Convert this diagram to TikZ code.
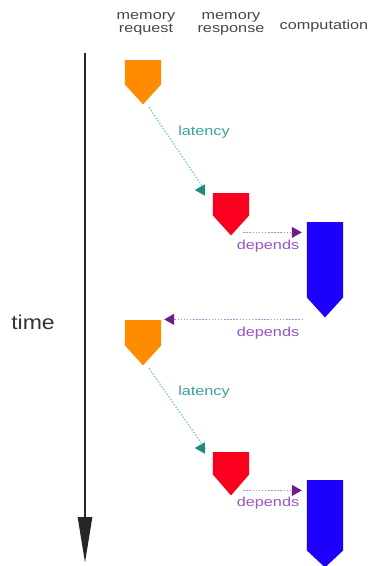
\documentclass[tikz,border=0pt]{standalone}
\usepackage{fontspec}
\setmainfont{Liberation Sans}
\usetikzlibrary{arrows.meta,calc}

\definecolor{reqorange}{RGB}{255,140,0}
\definecolor{resred}{RGB}{250,0,30}
\definecolor{compblue}{RGB}{28,0,252}
\definecolor{latline}{RGB}{120,200,210}
\definecolor{lathead}{RGB}{30,140,125}
\definecolor{lattext}{RGB}{60,160,160}
\definecolor{depline}{RGB}{200,130,230}
\definecolor{dephead}{RGB}{105,30,140}
\definecolor{deptext}{RGB}{150,85,200}
\definecolor{headtext}{RGB}{70,70,70}

\tikzset{
  blk/.style={rectangle, inner sep=0pt, minimum width=36pt},
  header/.style={font=\fontsize{13}{13}\selectfont, text=headtext, xscale=1.25, align=center},
  lattxt/.style={font=\fontsize{13}{13}\selectfont, text=lattext, xscale=1.25},
  deptxt/.style={font=\fontsize{13}{13}\selectfont, text=deptext, xscale=1.25},
  latarrow/.style={draw=latline, line width=1.2pt, dash pattern=on 1.5pt off 1.6pt,
    -{Triangle[length=10pt,width=11pt,color=lathead]}},
  deparrow/.style={draw=depline, line width=1.2pt, dash pattern=on 1.5pt off 1.6pt,
    -{Triangle[length=10pt,width=11pt,color=dephead]}},
  timearrow/.style={draw=black!85, line width=2.6pt,
    -{Triangle[length=46pt,width=14pt]}},
}

% pentagon block: rectangle node outlined as one shape with a pointed bottom
\newcommand{\pentblock}[6]{% name, x, top y, rect height, point depth, colour
  \node[blk, minimum height=#4pt, anchor=north] (#1) at (#2,#3) {};
  \coordinate (#1tip) at ($(#1.south)+(0,#5)$);
  \fill[#6] (#1.north west) -- (#1.north east) -- (#1.south east)
    -- (#1tip) -- (#1.south west) -- cycle;
}

\begin{document}
\begin{tikzpicture}[x=1pt,y=-1pt]
  \useasboundingbox (0,0) rectangle (371,566);
  \fill[white] (0,0) rectangle (371,566);

  % column headings
  \node[header] (hreq) at (146,24) {memory\\request};
  \node[header] (hres) at (231,24) {memory\\response};
  \node[header] (hcomp) at (324,26) {computation};

  % time axis
  \coordinate (tstart) at (85,53);
  \coordinate (tend) at (85,563);
  \draw[timearrow] (tstart) -- (tend);
  \node[font=\fontsize{20}{20}\selectfont, text=black!80, xscale=1.15] (time) at (33,322) {time};

  % first request / response / computation
  \pentblock{o1}{143}{60}{24}{20}{reqorange}
  \pentblock{r1}{231}{193}{22}{20}{resred}
  \pentblock{b1}{325}{222}{75}{20}{compblue}

  % second request / response / computation
  \pentblock{o2}{143}{320}{25}{20}{reqorange}
  \pentblock{r2}{231}{452}{22}{21}{resred}
  \pentblock{b2}{325}{480}{70}{17}{compblue}

  % latency between request and response
  \coordinate (l1s) at ($(o1tip)+(6,3)$);
  \coordinate (l1e) at ($(r1.north west)+(-8,-3)$);
  \draw[latarrow] (l1s) -- (l1e) -- ++(-10,0);
  \node[lattxt] (lat1) at (204,132) {latency};

  \coordinate (l2s) at ($(o2tip)+(6,3)$);
  \coordinate (l2e) at ($(r2.north west)+(-8,-4)$);
  \draw[latarrow] (l2s) -- (l2e) -- ++(-10,0);
  \node[lattxt] (lat2) at (204,392) {latency};

  % dependencies
  \coordinate (d1s) at ($(r1.south east)+(-6,17)$);
  \draw[deparrow, shorten >=5pt] (d1s) -- (d1s -| b1.west);
  \node[deptxt] (dep1) at (268,246) {depends};

  \coordinate (d2s) at ($(b1tip)+(-22,2)$);
  \coordinate (d2e) at ($(o2.north east)+(3,-1)$);
  \draw[deparrow] (d2s) -- (d2s -| d2e);
  \node[deptxt] (dep2) at (268,333) {depends};

  \coordinate (d3s) at ($(r2.south east)+(-6,16)$);
  \draw[deparrow, shorten >=5pt] (d3s) -- (d3s -| b2.west);
  \node[deptxt] (dep3) at (268,503) {depends};
\end{tikzpicture}
\end{document}
